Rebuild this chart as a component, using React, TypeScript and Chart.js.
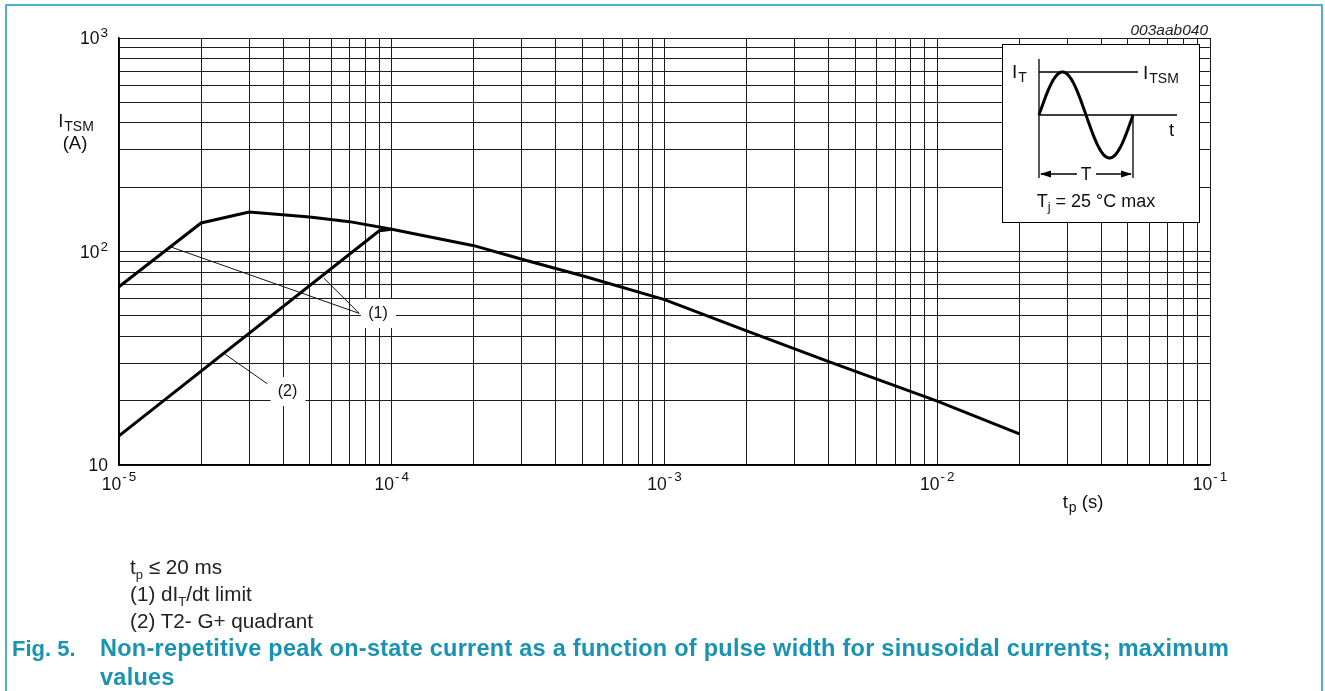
import React, { useEffect, useRef } from "react";
import { Chart, registerables } from "chart.js";

Chart.register(...registerables);

// ---------- data ----------
const X_MIN = 1e-5;
const X_MAX = 1e-1;
const Y_MIN = 10;
const Y_MAX = 1000;

const X_DECADES = [-5, -4, -3, -2, -1];
const Y_DECADES = [1, 2, 3];
const Y_TICK_SUP = ["", "2", "3"];
const GRID_MANTISSAS = [1, 2, 3, 4, 5, 6, 7, 8, 9];

// (1) dIT/dt limit + common curve
const CURVE1_TP = [1e-5, 2e-5, 3e-5, 5e-5, 7e-5, 1e-4, 2e-4, 3e-4, 5e-4, 1e-3, 2e-3, 4e-3, 1e-2, 2e-2];
const CURVE1_I = [68.4, 136, 153, 145, 138, 127, 106.5, 92, 77, 59.5, 42.5, 30.5, 19.9, 14.0];
// (2) T2- G+ quadrant
const CURVE2_TP = [1e-5, 9e-5, 1e-4];
const CURVE2_I = [13.7, 125, 127];

// annotation leader lines
const LEADER1A_TP = [1.55e-5, 7.6e-5];
const LEADER1A_I = [105, 51.3];
const LEADER1B_TP = [5.64e-5, 7.6e-5];
const LEADER1B_I = [75, 51.3];
const LEADER2_TP = [2.45e-5, 3.5e-5];
const LEADER2_I = [33, 24];

const ANNOT_TEXT = ["(1)", "(2)"];
const ANNOT_TP = [8.9e-5, 4.15e-5];
const ANNOT_I = [51.5, 22.2];

const FONT = '"Liberation Sans", Arial, Helvetica, sans-serif';
const TEAL = "#1893b1";

type Run = { text: string; size: number; dy?: number; gap?: number; italic?: boolean };

function runWidth(ctx: CanvasRenderingContext2D, runs: Run[]) {
  let total = 0;
  for (const r of runs) {
    ctx.font = `${r.italic ? "italic " : ""}${r.size}px ${FONT}`;
    total += ctx.measureText(r.text).width + (r.gap || 0);
  }
  return total;
}

function drawRuns(ctx: CanvasRenderingContext2D, runs: Run[], x: number, y: number, align: "left" | "center" | "right") {
  const total = runWidth(ctx, runs);
  let cx = align === "center" ? x - total / 2 : align === "right" ? x - total : x;
  ctx.textAlign = "left";
  ctx.textBaseline = "alphabetic";
  for (const r of runs) {
    ctx.font = `${r.italic ? "italic " : ""}${r.size}px ${FONT}`;
    cx += r.gap || 0;
    ctx.fillText(r.text, cx, y + (r.dy || 0));
    cx += ctx.measureText(r.text).width;
  }
}

function pts(xs: number[], ys: number[]) {
  return xs.map((x, i) => ({ x, y: ys[i] }));
}

const decorPlugin = {
  id: "decor",
  afterDatasetsDraw(chart: any) {
    const ctx: CanvasRenderingContext2D = chart.ctx;
    const xs = chart.scales.x;
    const ys = chart.scales.y;
    ctx.save();
    // annotation labels with white background
    ANNOT_TEXT.forEach((t, i) => {
      const px = xs.getPixelForValue(ANNOT_TP[i]);
      const py = ys.getPixelForValue(ANNOT_I[i]);
      ctx.fillStyle = "#fff";
      ctx.fillRect(px - 17, py - 14, 35, 29);
      ctx.fillStyle = "#111";
      ctx.font = `16px ${FONT}`;
      ctx.textAlign = "center";
      ctx.textBaseline = "middle";
      ctx.fillText(t, px, py + 1);
    });
    ctx.restore();
  },
  afterDraw(chart: any) {
    const ctx: CanvasRenderingContext2D = chart.ctx;
    const xs = chart.scales.x;
    const ys = chart.scales.y;
    const ca = chart.chartArea;
    ctx.save();
    ctx.fillStyle = "#111";

    // x tick labels
    X_DECADES.forEach((d) => {
      const px = xs.getPixelForValue(Math.pow(10, d));
      const sup = String(Math.abs(d));
      drawRuns(
        ctx,
        [
          { text: "10", size: 17.5 },
          { text: "-", size: 13.5, dy: -9, gap: 1 },
          { text: sup, size: 13.5, dy: -9, gap: 2 },
        ],
        px,
        ca.bottom + 25,
        "center"
      );
    });

    // y tick labels
    Y_DECADES.forEach((d, i) => {
      const py = ys.getPixelForValue(Math.pow(10, d));
      const runs: Run[] = [{ text: "10", size: 17.5 }];
      if (Y_TICK_SUP[i]) runs.push({ text: Y_TICK_SUP[i], size: 13.5, dy: -7, gap: 1 });
      drawRuns(ctx, runs, ca.left - 11, py + 6, "right");
    });

    // axis titles
    drawRuns(
      ctx,
      [
        { text: "I", size: 18.5 },
        { text: "TSM", size: 14, dy: 4, gap: 1 },
      ],
      ca.left - 43,
      ca.top + 89,
      "center"
    );
    drawRuns(ctx, [{ text: "(A)", size: 18.5 }], ca.left - 44, ca.top + 111, "center");
    drawRuns(
      ctx,
      [
        { text: "t", size: 18.5 },
        { text: "p", size: 14, dy: 4, gap: 1 },
        { text: " (s)", size: 18.5 },
      ],
      ca.right - 127,
      ca.bottom + 43,
      "center"
    );

    // figure code
    ctx.fillStyle = "#222";
    drawRuns(ctx, [{ text: "003aab040", size: 15.5, italic: true }], ca.right - 2, ca.top - 3, "right");

    // inset
    const bx = ca.right - 208;
    const by = ca.top + 6;
    ctx.fillStyle = "#fff";
    ctx.fillRect(bx, by, 197, 178);
    ctx.strokeStyle = "#000";
    ctx.lineWidth = 1;
    ctx.strokeRect(bx + 0.5, by + 0.5, 197, 178);

    const ax = bx + 37;
    const ay = by + 71;
    const period = 94;
    const amp = 43;
    ctx.lineWidth = 1.3;
    ctx.beginPath();
    ctx.moveTo(ax, by + 15);
    ctx.lineTo(ax, by + 134);
    ctx.moveTo(ax, ay);
    ctx.lineTo(bx + 175, ay);
    ctx.moveTo(ax, by + 28);
    ctx.lineTo(bx + 136, by + 28);
    ctx.moveTo(ax + period, ay);
    ctx.lineTo(ax + period, by + 134);
    ctx.stroke();

    // sine
    ctx.lineWidth = 3;
    ctx.beginPath();
    for (let k = 0; k <= 94; k++) {
      const x = ax + k;
      const y = ay - amp * Math.sin((2 * Math.PI * k) / period);
      if (k === 0) ctx.moveTo(x, y);
      else ctx.lineTo(x, y);
    }
    ctx.stroke();

    // T arrow
    const ty = by + 130;
    ctx.lineWidth = 1.3;
    ctx.beginPath();
    ctx.moveTo(ax + 2, ty);
    ctx.lineTo(ax + 38, ty);
    ctx.moveTo(ax + 57, ty);
    ctx.lineTo(ax + period - 2, ty);
    ctx.stroke();
    ctx.fillStyle = "#000";
    ctx.beginPath();
    ctx.moveTo(ax + 1, ty);
    ctx.lineTo(ax + 12, ty - 3.5);
    ctx.lineTo(ax + 12, ty + 3.5);
    ctx.closePath();
    ctx.fill();
    ctx.beginPath();
    ctx.moveTo(ax + period - 1, ty);
    ctx.lineTo(ax + period - 12, ty - 3.5);
    ctx.lineTo(ax + period - 12, ty + 3.5);
    ctx.closePath();
    ctx.fill();

    ctx.fillStyle = "#111";
    drawRuns(ctx, [{ text: "T", size: 17.5 }], ax + period / 2, ty + 6, "center");
    drawRuns(
      ctx,
      [
        { text: "I", size: 19 },
        { text: "T", size: 14, dy: 4, gap: 1 },
      ],
      bx + 10,
      by + 34,
      "left"
    );
    drawRuns(
      ctx,
      [
        { text: "I", size: 19 },
        { text: "TSM", size: 14, dy: 4, gap: 1 },
      ],
      bx + 141,
      by + 35,
      "left"
    );
    drawRuns(ctx, [{ text: "t", size: 18.5 }], bx + 167, by + 92, "left");
    drawRuns(
      ctx,
      [
        { text: "T", size: 18 },
        { text: "j", size: 13, dy: 4, gap: 0 },
        { text: " = 25 °C max", size: 18 },
      ],
      bx + 94,
      by + 163,
      "center"
    );
    ctx.restore();
  },
};

function xGrid() {
  const v: number[] = [];
  for (let d = -5; d < -1; d++) GRID_MANTISSAS.forEach((m) => v.push(m * Math.pow(10, d)));
  v.push(X_MAX);
  return v;
}
function yGrid() {
  const v: number[] = [];
  for (let d = 1; d < 3; d++) GRID_MANTISSAS.forEach((m) => v.push(m * Math.pow(10, d)));
  v.push(Y_MAX);
  return v;
}

export default function App() {
  const ref = useRef<HTMLCanvasElement | null>(null);

  useEffect(() => {
    if (!ref.current) return;
    const thick = { borderColor: "#000", borderWidth: 3, pointRadius: 0, tension: 0, fill: false };
    const thin = { borderColor: "#111", borderWidth: 1, pointRadius: 0, tension: 0, fill: false };
    const chart = new Chart(ref.current, {
      type: "line",
      data: {
        datasets: [
          { label: "leader1a", data: pts(LEADER1A_TP, LEADER1A_I), ...thin },
          { label: "leader1b", data: pts(LEADER1B_TP, LEADER1B_I), ...thin },
          { label: "leader2", data: pts(LEADER2_TP, LEADER2_I), ...thin },
          { label: "(1) dIT/dt limit", data: pts(CURVE1_TP, CURVE1_I), ...thick },
          { label: "(2) T2- G+ quadrant", data: pts(CURVE2_TP, CURVE2_I), ...thick },
        ] as any,
      },
      options: {
        animation: false,
        responsive: false,
        maintainAspectRatio: false,
        devicePixelRatio: 1,
        layout: { padding: { left: 119, top: 38, right: 115, bottom: 226 } },
        plugins: { legend: { display: false }, tooltip: { enabled: false } },
        scales: {
          x: {
            type: "logarithmic",
            min: X_MIN,
            max: X_MAX,
            afterBuildTicks: (axis: any) => {
              axis.ticks = xGrid().map((value) => ({ value }));
            },
            ticks: { display: false, autoSkip: false },
            grid: { color: "#1c1c1c", lineWidth: 1, drawTicks: false },
            border: { color: "#000", width: 1.5 },
          },
          y: {
            type: "logarithmic",
            min: Y_MIN,
            max: Y_MAX,
            afterBuildTicks: (axis: any) => {
              axis.ticks = yGrid().map((value) => ({ value }));
            },
            ticks: { display: false, autoSkip: false },
            grid: { color: "#1c1c1c", lineWidth: 1, drawTicks: false },
            border: { color: "#000", width: 1.5 },
          },
        },
      } as any,
      plugins: [decorPlugin as any],
    });
    return () => chart.destroy();
  }, []);

  const note: React.CSSProperties = {
    position: "absolute",
    left: 130,
    fontFamily: FONT,
    fontSize: 20.7,
    color: "#222",
    lineHeight: "27px",
    whiteSpace: "nowrap",
  };
  const sub: React.CSSProperties = { fontSize: 13, position: "relative", top: 5 };
  const cap: React.CSSProperties = {
    position: "absolute",
    fontFamily: FONT,
    fontSize: 23.5,
    fontWeight: "bold",
    color: TEAL,
    lineHeight: "29px",
    whiteSpace: "nowrap",
  };

  return (
    <div style={{ position: "fixed", left: 0, top: 0, width: 1325, height: 691, overflow: "hidden", background: "#fff" }}>
      <div
        style={{
          position: "absolute",
          left: 5,
          top: 4,
          width: 1314,
          height: 720,
          borderTop: "2px solid #46b2cb",
          borderLeft: "2px solid #46b2cb",
          borderRight: "2px solid #46b2cb",
        }}
      />
      <canvas ref={ref} width={1325} height={691} style={{ position: "absolute", left: 0, top: 0, display: "block" }} />
      <div style={{ ...note, top: 553 }}>
        t<span style={sub}>p</span> ≤ 20 ms
      </div>
      <div style={{ ...note, top: 580 }}>
        (1) dI<span style={sub}>T</span>/dt limit
      </div>
      <div style={{ ...note, top: 607 }}>(2) T2- G+ quadrant</div>
      <div style={{ ...cap, left: 12, top: 634, fontSize: 22 }}>Fig. 5.</div>
      <div style={{ ...cap, left: 100, top: 634, letterSpacing: "0.25px" }}>
        Non-repetitive peak on-state current as a function of pulse width for sinusoidal currents; maximum
      </div>
      <div style={{ ...cap, left: 100, top: 663, letterSpacing: "0.25px" }}>values</div>
    </div>
  );
}
